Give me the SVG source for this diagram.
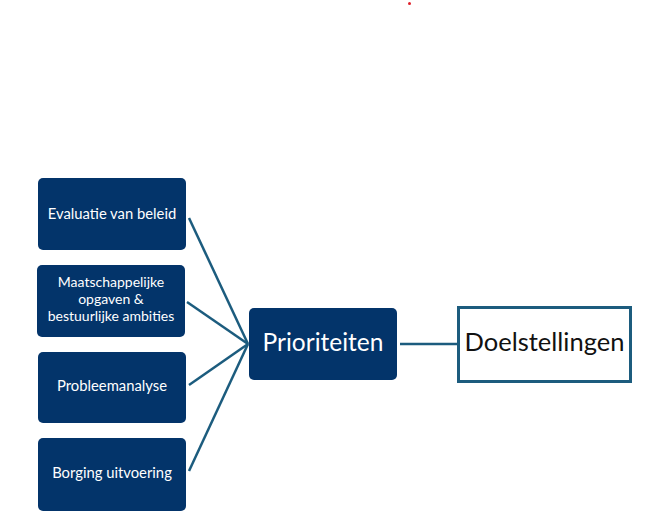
<svg xmlns="http://www.w3.org/2000/svg" width="649" height="517" viewBox="0 0 649 517">
<style>
.box{fill:#03346A;}
.t{font-family:Lato,"Noto Sans",sans-serif;fill:#ffffff;text-anchor:middle;}
.s{font-size:14.8px;}
.m{font-size:14px;}
.c{stroke:#1C5C7E;stroke-width:2.5;fill:none;}
</style>
<rect width="649" height="517" fill="#ffffff"/>
<circle cx="409.5" cy="3.5" r="1.5" fill="#e0202a"/>
<g id="connectors">
<line class="c" x1="189" y1="218" x2="248" y2="344"/>
<line class="c" x1="187" y1="302" x2="248" y2="344"/>
<line class="c" x1="189" y1="385" x2="248" y2="344"/>
<line class="c" x1="189" y1="471" x2="248" y2="344"/>
<line class="c" x1="400" y1="344" x2="457" y2="344"/>
</g>
<g id="evaluatie">
<rect class="box" x="38" y="178" width="148" height="72" rx="5"/>
<text class="t s" x="112" y="219">Evaluatie van beleid</text>
</g>
<g id="maatschappelijk">
<rect class="box" x="37" y="265" width="148" height="72" rx="5"/>
<text class="t m" x="111" y="287">Maatschappelijke</text>
<text class="t m" x="111" y="304">opgaven &amp;</text>
<text class="t m" x="111" y="321">bestuurlijke ambities</text>
</g>
<g id="probleemanalyse">
<rect class="box" x="38" y="352" width="148" height="71" rx="5"/>
<text class="t s" x="112" y="391">Probleemanalyse</text>
</g>
<g id="borging">
<rect class="box" x="38" y="438" width="148" height="73" rx="5"/>
<text class="t s" x="112" y="478">Borging uitvoering</text>
</g>
<g id="prioriteiten">
<rect class="box" x="249" y="308" width="148" height="72" rx="5"/>
<text class="t" x="323" y="351" font-size="24.5">Prioriteiten</text>
</g>
<g id="doelstellingen">
<rect x="458.5" y="307.5" width="172" height="74" fill="#ffffff" stroke="#1C5C7E" stroke-width="3"/>
<text x="544.5" y="351" font-size="25.5" font-family="Lato,'Noto Sans',sans-serif" fill="#111111" text-anchor="middle">Doelstellingen</text>
</g>
</svg>
